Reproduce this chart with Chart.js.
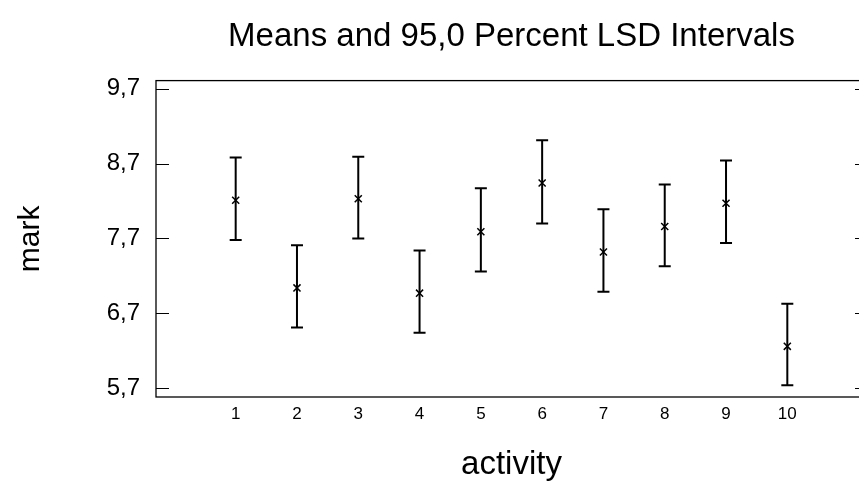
<!DOCTYPE html>
<html>
<head>
<meta charset="utf-8">
<title>Means and 95,0 Percent LSD Intervals</title>
<script src="https://cdn.jsdelivr.net/npm/chart.js@4.4.1/dist/chart.umd.min.js"></script>
<style>
  html, body { margin: 0; padding: 0; background: #fff; overflow: hidden; }
  #wrap { width: 859px; height: 482px; overflow: hidden; }
</style>
</head>
<body>
<div id="wrap"><canvas id="lsdChart" width="880" height="482"></canvas></div>
<script>
// activity levels and the LSD intervals
var activity = [1, 2, 3, 4, 5, 6, 7, 8, 9, 10];
var means = [8.21, 7.04, 8.23, 6.97, 7.79, 8.44, 7.52, 7.86, 8.17, 6.26];
var lower = [7.68, 6.51, 7.70, 6.44, 7.26, 7.90, 6.99, 7.33, 7.64, 5.74];
var upper = [8.78, 7.61, 8.79, 7.54, 8.37, 9.01, 8.09, 8.42, 8.74, 6.83];
var yTicks = [5.7, 6.7, 7.7, 8.7, 9.7];

var fontFamily = "'Liberation Sans', Arial, sans-serif";
var narrowFamily = "'Liberation Sans Narrow', 'Arial Narrow', 'Liberation Sans', sans-serif";

// vertical interval lines with caps, drawn under the mean markers
var errorBars = {
  id: "errorBars",
  beforeDatasetsDraw: function (chart) {
    var ctx = chart.ctx;
    var xs = chart.scales.x;
    var ys = chart.scales.y;
    ctx.save();
    ctx.strokeStyle = "#000";
    ctx.lineWidth = 2;
    for (var i = 0; i < activity.length; i++) {
      var x = xs.getPixelForValue(activity[i]);
      var yl = ys.getPixelForValue(lower[i]);
      var yh = ys.getPixelForValue(upper[i]);
      ctx.beginPath();
      ctx.moveTo(x, yl);
      ctx.lineTo(x, yh);
      ctx.moveTo(x - 6, yh);
      ctx.lineTo(x + 6, yh);
      ctx.moveTo(x - 6, yl);
      ctx.lineTo(x + 6, yl);
      ctx.stroke();
    }
    ctx.restore();
  },
};

// box round the plot with inward tick marks on both sides
var frame = {
  id: "frame",
  afterDraw: function (chart) {
    var ctx = chart.ctx;
    var a = chart.chartArea;
    var ys = chart.scales.y;
    ctx.save();
    ctx.strokeStyle = "#000";
    ctx.lineWidth = 1.3;
    ctx.strokeRect(a.left, a.top, a.right - a.left, a.bottom - a.top);
    ctx.lineWidth = 1.2;
    ctx.beginPath();
    yTicks.forEach(function (v) {
      var y = Math.round(ys.getPixelForValue(v)) + 0.5;
      ctx.moveTo(a.left, y);
      ctx.lineTo(a.left + 13, y);
      ctx.moveTo(a.right, y);
      ctx.lineTo(a.right - 12, y);
    });
    ctx.stroke();
    ctx.restore();
  },
};

var ctx = document.getElementById("lsdChart").getContext("2d");
var lsdChart = new Chart(ctx, {
  type: "scatter",
  data: {
    datasets: [
      {
        label: "mean",
        data: activity.map(function (a, i) {
          return { x: a, y: means[i] };
        }),
        pointStyle: "crossRot",
        pointRadius: 5,
        pointBorderWidth: 1.5,
        pointBorderColor: "#000",
        pointBackgroundColor: "#000",
      },
    ],
  },
  options: {
    responsive: false,
    animation: false,
    devicePixelRatio: 1,
    layout: { padding: { left: 0, right: 13, top: 0, bottom: 0 } },
    plugins: {
      legend: { display: false },
      tooltip: { enabled: false },
      title: {
        display: true,
        fullSize: false,
        text: "Means and 95,0 Percent LSD Intervals",
        color: "#000",
        font: { family: fontFamily, size: 33, weight: "normal" },
        padding: { top: 17, bottom: 24 },
      },
    },
    scales: {
      x: {
        type: "linear",
        min: -0.3,
        max: 11.3,
        grid: { display: false, drawTicks: false },
        border: { display: false },
        afterBuildTicks: function (scale) {
          scale.ticks = activity.map(function (v) {
            return { value: v };
          });
        },
        afterFit: function (scale) {
          scale.height = 85;
        },
        ticks: {
          color: "#000",
          padding: 7,
          font: { family: narrowFamily, size: 17 },
          callback: function (v) {
            return String(v);
          },
        },
        title: {
          display: true,
          text: "activity",
          color: "#000",
          font: { family: fontFamily, size: 33 },
          padding: { top: 0, bottom: -3 },
        },
      },
      y: {
        type: "linear",
        min: 5.584,
        max: 9.807,
        grid: { display: false, drawTicks: false },
        border: { display: false },
        afterBuildTicks: function (scale) {
          scale.ticks = yTicks.map(function (v) {
            return { value: v };
          });
        },
        afterFit: function (scale) {
          scale.width = 156;
        },
        ticks: {
          color: "#000",
          padding: 16,
          font: { family: fontFamily, size: 24 },
          callback: function (v) {
            return v.toFixed(1).replace(".", ",");
          },
        },
        title: {
          display: true,
          text: "mark",
          color: "#000",
          font: { family: fontFamily, size: 30 },
          padding: { top: 13, bottom: 0 },
        },
      },
    },
  },
  plugins: [errorBars, frame],
});
</script>
</body>
</html>
